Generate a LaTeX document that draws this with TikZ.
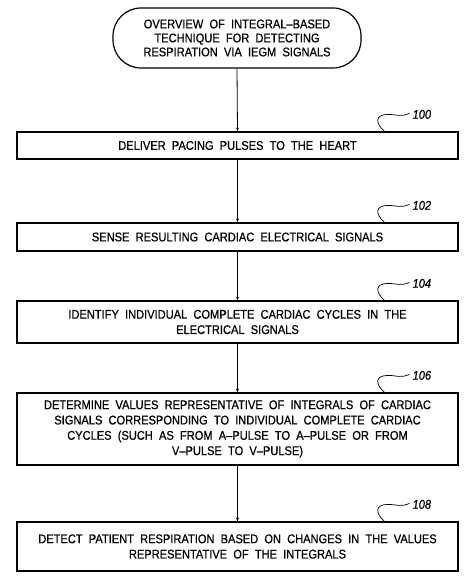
\documentclass[tikz,border=0pt]{standalone}
\usepackage{fontspec}
\setmainfont{Liberation Sans}[FakeStretch=0.88, WordSpace=2.0, FakeBold=0.6]
\usetikzlibrary{arrows.meta,calc}
\begin{document}
\begin{tikzpicture}[x=1pt,y=1pt,
  stepbox/.style={draw, line width=1.2pt, minimum width=441pt, align=center, inner sep=0pt, font=\fontsize{12.6}{15.3}\selectfont},
  term/.style={draw, line width=1.2pt, rounded corners=28pt, minimum width=248pt, minimum height=60pt, align=center, inner sep=0pt, font=\fontsize{12.6}{14}\selectfont},
  lbl/.style={font=\fontsize{12.6}{14}\selectfont\itshape, anchor=west, inner sep=0pt},
  conn/.style={line width=0.8pt, -{Stealth[length=4pt,width=3pt]}},
  squig/.style={line width=0.7pt}]
\useasboundingbox (0,0) rectangle (474,-585);

\node[term] (start) at (237,-38) {OVERVIEW OF INTEGRAL--BASED\\TECHNIQUE FOR DETECTING\\RESPIRATION VIA IEGM SIGNALS};

\node[stepbox, minimum height=27pt] (b100) at (237.5,-145.5) {DELIVER PACING PULSES TO THE HEART};
\node[stepbox, minimum height=28pt] (b102) at (237.5,-237) {SENSE RESULTING CARDIAC ELECTRICAL SIGNALS};
\node[stepbox, minimum height=42pt] (b104) at (237.5,-322) {IDENTIFY INDIVIDUAL COMPLETE CARDIAC CYCLES IN THE\\ELECTRICAL SIGNALS};
\node[stepbox, minimum height=72pt] (b106) at (237.5,-429) {DETERMINE VALUES REPRESENTATIVE OF INTEGRALS OF CARDIAC\\SIGNALS CORRESPONDING TO INDIVIDUAL COMPLETE CARDIAC\\CYCLES (SUCH AS FROM A--PULSE TO A--PULSE OR FROM\\V--PULSE TO V--PULSE)};
\node[stepbox, minimum height=49pt] (b108) at (237.5,-546.5) {DETECT PATIENT RESPIRATION BASED ON CHANGES IN THE VALUES\\REPRESENTATIVE OF THE INTEGRALS};

\draw[conn] (start.south) -- (b100.north);
\draw[conn] (b100.south) -- (b102.north);
\draw[conn] (b102.south) -- (b104.north);
\draw[conn] (b104.south) -- (b106.north);
\draw[conn] (b106.south) -- (b108.north);

\foreach \b in {100,102,104,106,108}{
  \coordinate (s\b) at ($(b\b.north west)+(368,0)$);
  \node[lbl] (l\b) at ($(b\b.north west)+(396,17)$) {\b};
  \draw[squig] (s\b) .. controls ($(s\b)+(-9,8)$) and ($(s\b)+(-10,17)$) .. ($(s\b)+(4,17)$)
     .. controls ($(s\b)+(12,17)$) and ($(s\b)+(16,14)$) .. ($(l\b.west)+(-3,1)$);
}
\end{tikzpicture}
\end{document}
